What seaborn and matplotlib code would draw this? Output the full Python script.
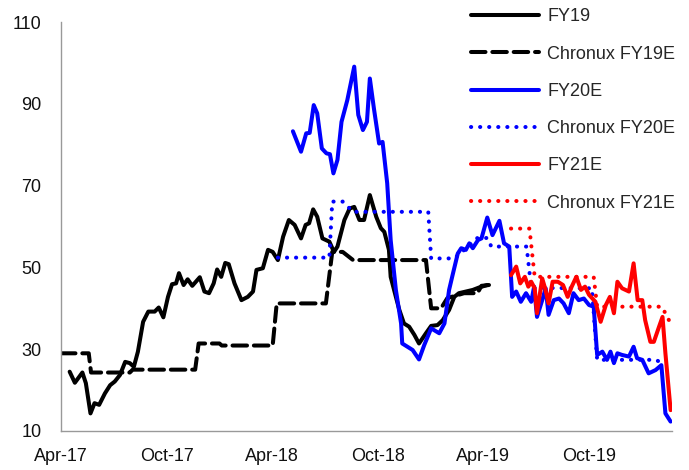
import numpy as np
import pandas as pd
import matplotlib
matplotlib.use('Agg')
import matplotlib.pyplot as plt
import matplotlib.dates as mdates
import seaborn as sns

# data (weekly-ish points)
fy19_dates = ['2017-04-16', '2017-04-25', '2017-05-08', '2017-05-14', '2017-05-22',
              '2017-05-29', '2017-06-06', '2017-06-16', '2017-06-25', '2017-07-03',
              '2017-07-12', '2017-07-21', '2017-07-29', '2017-08-05', '2017-08-12',
              '2017-08-21', '2017-08-30', '2017-09-10', '2017-09-17', '2017-09-25',
              '2017-10-03', '2017-10-10', '2017-10-17', '2017-10-22', '2017-10-30',
              '2017-11-06', '2017-11-14', '2017-11-27', '2017-12-05', '2017-12-13',
              '2017-12-21', '2017-12-27', '2018-01-03', '2018-01-10', '2018-01-16',
              '2018-01-26', '2018-02-07', '2018-02-18', '2018-02-27', '2018-03-05',
              '2018-03-16', '2018-03-25', '2018-04-02', '2018-04-11', '2018-04-20',
              '2018-04-30', '2018-05-10', '2018-05-21', '2018-05-29', '2018-06-04',
              '2018-06-11', '2018-06-18', '2018-06-27', '2018-07-09', '2018-07-17',
              '2018-07-23', '2018-08-04', '2018-08-13', '2018-08-21', '2018-08-30',
              '2018-09-07', '2018-09-17', '2018-09-28', '2018-10-06', '2018-10-12',
              '2018-10-20', '2018-10-23', '2018-11-01', '2018-11-07', '2018-11-15',
              '2018-11-24', '2018-12-03', '2018-12-11', '2018-12-23', '2019-01-01',
              '2019-01-12', '2019-01-21', '2019-02-01', '2019-02-10', '2019-02-18',
              '2019-03-02', '2019-03-14', '2019-03-25', '2019-04-08']
fy19_vals = [24.5, 21.8, 24.3, 21.7, 14.3, 16.8, 16.4, 19.2, 21.2, 22.1,
             23.7, 26.9, 26.6, 25.7, 29.4, 36.7, 39.2, 39.2, 40.2, 37.8,
             42.8, 45.9, 46.1, 48.6, 45.7, 47.1, 45.5, 47.6, 44.1, 43.7,
             46.1, 49.5, 47.7, 51.1, 50.8, 46.1, 42.0, 42.8, 44.1, 49.4,
             49.8, 54.3, 53.8, 51.8, 57.5, 61.6, 60.4, 57.1, 60.4, 60.8,
             64.2, 62.4, 57.1, 56.3, 53.8, 55.1, 61.6, 64.4, 64.8, 61.6,
             61.6, 67.7, 62.4, 59.6, 58.7, 54.3, 47.7, 42.8, 39.6, 36.3,
             35.5, 33.5, 31.4, 33.9, 35.7, 35.9, 37.1, 39.6, 42.8, 43.7,
             44.1, 44.5, 45.1, 45.7]

chx19_dates = ['2017-04-01', '2017-05-19', '2017-05-23', '2017-07-29', '2017-08-03',
               '2017-11-19', '2017-11-25', '2017-12-31', '2018-01-04', '2018-04-02',
               '2018-04-09', '2018-07-03', '2018-07-14', '2018-08-01', '2018-08-19',
               '2018-12-23', '2019-01-01', '2019-01-18', '2019-01-29', '2019-02-27',
               '2019-03-22', '2019-03-29', '2019-04-11']
chx19_vals = [29.0, 29.0, 24.3, 24.3, 25.0, 25.0, 31.4, 31.4, 30.9, 30.9,
              41.2, 41.2, 53.8, 53.8, 51.8, 51.8, 40.0, 40.0, 42.5, 43.7,
              43.7, 45.5, 45.7]

fy20_dates = ['2018-05-07', '2018-05-21', '2018-05-30', '2018-06-05', '2018-06-12',
              '2018-06-18', '2018-06-26', '2018-07-04', '2018-07-10', '2018-07-16',
              '2018-07-23', '2018-07-30', '2018-08-09', '2018-08-21', '2018-08-28',
              '2018-09-05', '2018-09-12', '2018-09-17', '2018-09-24', '2018-10-03',
              '2018-10-09', '2018-10-17', '2018-10-23', '2018-11-01', '2018-11-10',
              '2018-11-12', '2018-11-30', '2018-12-11', '2018-12-20', '2019-01-01',
              '2019-01-15', '2019-01-24', '2019-02-01', '2019-02-07', '2019-02-16',
              '2019-02-22', '2019-03-02', '2019-03-08', '2019-03-14', '2019-03-23',
              '2019-03-29', '2019-04-08', '2019-04-17', '2019-04-29', '2019-05-07',
              '2019-05-16', '2019-05-21', '2019-05-28', '2019-06-05', '2019-06-14',
              '2019-06-23', '2019-06-28', '2019-07-03', '2019-07-12', '2019-07-18',
              '2019-07-23', '2019-08-01', '2019-08-10', '2019-08-18', '2019-08-27',
              '2019-09-04', '2019-09-13', '2019-09-22', '2019-10-01', '2019-10-09',
              '2019-10-15', '2019-10-24', '2019-11-01', '2019-11-07', '2019-11-13',
              '2019-11-19', '2019-11-27', '2019-12-09', '2019-12-17', '2019-12-23',
              '2020-01-01', '2020-01-12', '2020-01-24', '2020-02-03', '2020-02-10',
              '2020-02-19']
fy20_vals = [83.3, 78.3, 82.8, 82.9, 89.7, 87.7, 79.1, 77.9, 77.7, 73.0,
             76.3, 85.6, 90.9, 99.1, 87.3, 83.6, 85.6, 96.2, 88.9, 80.3,
             80.7, 70.6, 56.7, 44.5, 36.3, 31.4, 29.8, 27.5, 31.0, 35.1,
             33.9, 36.3, 44.5, 48.1, 53.4, 54.7, 54.3, 55.9, 54.7, 56.7,
             57.1, 62.2, 57.9, 61.4, 55.9, 55.1, 42.8, 44.1, 41.6, 43.7,
             41.6, 45.3, 37.9, 42.0, 44.9, 38.4, 42.0, 42.4, 41.2, 38.8,
             43.7, 42.0, 42.4, 40.8, 40.4, 28.6, 29.4, 27.4, 29.4, 26.6,
             29.0, 28.6, 28.2, 30.6, 27.8, 27.4, 24.1, 24.9, 26.1, 14.3,
             12.3]

chx20_dates = ['2018-04-11', '2018-07-09', '2018-07-14', '2018-08-01', '2018-08-19',
               '2018-12-27', '2019-01-01', '2019-02-10', '2019-03-01', '2019-03-22',
               '2019-04-08', '2019-04-15', '2019-06-15', '2019-06-23', '2019-10-06',
               '2019-10-15', '2020-01-25', '2020-02-03']
chx20_vals = [52.4, 52.4, 66.1, 66.1, 63.6, 63.6, 52.2, 52.2, 54.5, 57.2,
              57.2, 55.1, 55.1, 45.0, 44.9, 27.4, 27.4, 26.6]

fy21_dates = ['2019-05-19', '2019-05-28', '2019-06-04', '2019-06-12', '2019-06-18',
              '2019-06-23', '2019-06-29', '2019-07-03', '2019-07-12', '2019-07-17',
              '2019-07-23', '2019-07-30', '2019-08-08', '2019-08-17', '2019-08-25',
              '2019-09-01', '2019-09-09', '2019-09-17', '2019-09-24', '2019-10-01',
              '2019-10-12', '2019-10-21', '2019-10-30', '2019-11-06', '2019-11-13',
              '2019-11-19', '2019-11-27', '2019-12-09', '2019-12-17', '2019-12-24',
              '2020-01-01', '2020-01-06', '2020-01-15', '2020-01-21', '2020-01-30',
              '2020-02-05', '2020-02-10', '2020-02-19']
fy21_vals = [48.1, 50.2, 46.1, 47.7, 45.3, 46.5, 44.9, 38.8, 47.3, 44.9,
             41.2, 46.5, 46.5, 45.7, 42.8, 45.3, 47.7, 44.5, 45.3, 43.3,
             41.6, 36.7, 40.8, 42.8, 38.8, 46.5, 44.9, 44.1, 51.0, 42.0,
             42.0, 37.1, 31.8, 31.8, 35.5, 37.9, 29.0, 15.1]

chx21_dates = ['2019-05-19', '2019-06-20', '2019-06-29', '2019-10-09', '2019-10-15',
               '2020-02-04', '2020-02-19']
chx21_vals = [59.5, 59.5, 47.7, 47.7, 40.4, 40.4, 36.3]

labels = ['FY19', 'Chronux FY19E', 'FY20E', 'Chronux FY20E', 'FY21E', 'Chronux FY21E']
tick_dates = ['2017-04-01', '2017-10-01', '2018-04-01', '2018-10-01', '2019-04-01', '2019-10-01']

sns.set_style('white')
plt.rcParams['font.family'] = ['Liberation Sans', 'DejaVu Sans']

fig = plt.figure(figsize=(6.89, 4.70), dpi=100)
ax = fig.add_axes([0.0885, 0.083, 0.8865, 0.87])

series = [(fy19_dates, fy19_vals), (chx19_dates, chx19_vals),
          (fy20_dates, fy20_vals), (chx20_dates, chx20_vals),
          (fy21_dates, fy21_vals), (chx21_dates, chx21_vals)]
colors = ['black', 'black', '#0000ff', '#0000ff', '#ff0000', '#ff0000']
solid = '-'
dashed = (0, (3.6, 1.7))
dotted = (0, (0.05, 2.2))
styles = [solid, dashed, solid, dotted, solid, dotted]

for (d, v), lab, c, ls in zip(series, labels, colors, styles):
    df = pd.DataFrame({'date': pd.to_datetime(d), 'value': v})
    sns.lineplot(data=df, x='date', y='value', ax=ax, color=c, linewidth=2.9,
                 linestyle=ls, dash_capstyle='round', label=lab,
                 estimator=None, sort=False)

ax.set_xlim(pd.Timestamp('2017-04-01'), pd.Timestamp('2020-02-21'))
ax.set_ylim(10, 110)
ax.set_yticks([10, 30, 50, 70, 90, 110])
ax.set_xticks(pd.to_datetime(tick_dates))
ax.xaxis.set_major_formatter(mdates.DateFormatter('%b-%y'))
ax.set_xlabel('')
ax.set_ylabel('')

for side in ['top', 'right']:
    ax.spines[side].set_visible(False)
for side in ['left', 'bottom']:
    ax.spines[side].set_color('#999999')
    ax.spines[side].set_linewidth(1.0)
ax.tick_params(axis='both', direction='in', length=4, width=1, color='#999999',
               labelsize=13, labelcolor='#111111')
ax.tick_params(axis='y', pad=14)
ax.tick_params(axis='x', pad=12)

ax.legend(loc='upper left', bbox_to_anchor=(0.683, 0.982), bbox_transform=fig.transFigure,
          frameon=False, fontsize=13, handlelength=3.8, handletextpad=0.45,
          labelspacing=1.12, borderpad=0, borderaxespad=0)

fig.savefig('out.png', dpi=100)
